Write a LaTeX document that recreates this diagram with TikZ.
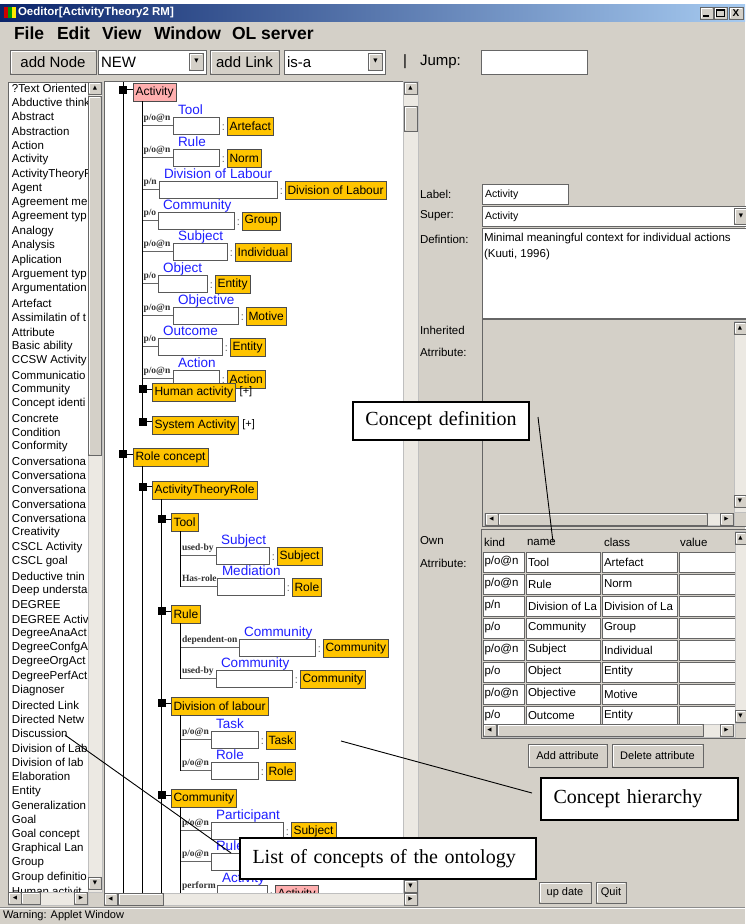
\documentclass[tikz,border=0pt]{standalone}
\usepackage{fontspec}
\setmainfont{Liberation Sans}
\newfontfamily\seriffont{Liberation Serif}
\newfontfamily\symfont{DejaVu Sans}
\definecolor{winbg}{RGB}{212,208,200}
\definecolor{trackbg}{RGB}{236,233,227}
\definecolor{conceptorange}{RGB}{255,196,0}
\definecolor{conceptpink}{RGB}{255,175,175}
\definecolor{linkblue}{RGB}{30,30,255}
\definecolor{titledark}{RGB}{10,36,106}
\definecolor{titlelight}{RGB}{166,202,240}
\newcommand{\sz}[1]{\fontsize{#1}{#1}\selectfont}

\begin{document}
\begin{tikzpicture}[x=1pt,y=-1pt,
	every node/.style={inner sep=0,outer sep=0},
	concept/.style={draw=black!70,fill=conceptorange,anchor=north west,minimum height=18,inner xsep=2.5,font=\sz{12}},
	knob/.style={fill=black,minimum size=8},
	slot/.style={draw=black!65,line width=1,fill=white,anchor=north west,minimum height=17.5},
	attrname/.style={text=linkblue,anchor=base west,font=\sz{13.5}},
	kindlbl/.style={anchor=base west,text=black!80,font=\seriffont\bfseries\sz{9.5}},
	colon/.style={text=black!60,font=\sz{11}},
	trunk/.style={draw=black,line width=0.9},
	stub/.style={draw=black!60,line width=1},
	raised/.style={fill=winbg,draw=black!60,line width=0.7,
		path picture={\draw[white,line width=1.4] ([shift={(1.2pt,1.2pt)}]path picture bounding box.south west) |- ([shift={(-1.2pt,-1.2pt)}]path picture bounding box.north east);}},
	sbtn/.style={raised,anchor=north west,minimum width=13,minimum height=12,font=\symfont\sz{5.5}},
	field/.style={fill=white,draw=black!60,line width=1},
	track/.style={fill=trackbg,draw=black!25,line width=0.5},
	gui/.style={anchor=west,font=\sz{11.5}},
	callout/.style={draw=black,line width=1.1,fill=white,anchor=north west,align=left,inner xsep=12.5,font=\seriffont\sz{20}},
	pointer/.style={draw=black,line width=0.9}]
\useasboundingbox (0,0) rectangle (745,924);
\fill[winbg] (0,0) rectangle (745,924);
\fill[white] (0,0) rectangle (745,4);

% title bar
\shade[left color=titledark,right color=titlelight] (0,4) rectangle (745,21);
\fill[red!80!black] (4,7) rectangle (8,18);
\fill[green!60!black] (8,7) rectangle (12,18);
\fill[yellow!90!orange] (12,7) rectangle (16,18);
\node[anchor=west,text=white,font=\bfseries\sz{11.5}] (title) at (18,13) {Oeditor[ActivityTheory2 RM]};
\draw[raised] (700,7) rectangle (713,19);
\draw[line width=1.5] (703,16) -- (709,16);
\draw[raised] (714,7) rectangle (727,19);
\draw[line width=0.8] (716.5,9.5) rectangle (724.5,16.5);
\draw[line width=1.5] (716.5,10) -- (724.5,10);
\draw[raised] (729,7) rectangle (743,19);
\node[font=\bfseries\sz{10}] (xbtn) at (736,13) {X};

% menu
\foreach \w/\x in {File/14,Edit/57,View/102,Window/154,OL server/232}
	\node[anchor=west,font=\bfseries\sz{17.5}] (menu\x) at (\x,33.5) {\w};

% toolbar
\node[raised,anchor=north west,minimum width=86,minimum height=24,font=\sz{15}] (addnode) at (10,50) {add Node};
\draw[field] (98,50) rectangle (206,74);
\node[gui,font=\sz{15}] (newsel) at (101,62) {NEW};
\node[sbtn,minimum width=14,minimum height=17] (newbtn) at (189.5,53) {▼};
\node[raised,anchor=north west,minimum width=69,minimum height=24,font=\sz{15}] (addlink) at (210,50) {add Link};
\draw[field] (284,50) rectangle (385,74);
\node[gui,font=\sz{15}] (linksel) at (287,62) {is-a};
\node[sbtn,minimum width=14,minimum height=17] (linkbtn) at (368.5,53) {▼};
\node[gui,font=\sz{15}] (bar) at (403,62) {|};
\node[gui,font=\sz{15}] (jump) at (420,62) {Jump:};
\draw[field] (481,50) rectangle (587,74);

% list of concepts
\draw[field] (8,82) rectangle (88,892);
\begin{scope}
\clip (9,83) rectangle (87.5,891);
\foreach \t [count=\i from 0] in {?Text Oriented,Abductive think,Abstract,Abstraction,Action,Activity,ActivityTheoryR,Agent,Agreement me,Agreement typ,Analogy,Analysis,Aplication,Arguement typ,Argumentation,Artefact,Assimilatin of t,Attribute,Basic ability,CCSW Activity,Communicatio,Community,Concept identi,Concrete,Condition,Conformity,Conversationa,Conversationa,Conversationa,Conversationa,Conversationa,Creativity,CSCL Activity,CSCL goal,Deductive tnin,Deep understa,DEGREE,DEGREE Activ,DegreeAnaAct,DegreeConfgA,DegreeOrgAct,DegreePerfAct,Diagnoser,Directed Link,Directed Netw,Discussion,Division of Lab,Division of lab,Elaboration,Entity,Generalization,Goal,Goal concept,Graphical Lan,Group,Group definitio,Human activit}
	\node[gui] (li\i) at (12,{88+\i*14.35}) {\t};
\end{scope}
\draw[track] (88,82) rectangle (102,892);
\node[sbtn] (lup) at (88.5,82.5) {▲};
\draw[raised] (88.5,96) rectangle (101.5,455);
\node[sbtn] (ldown) at (88.5,877) {▼};
\draw[track] (8,892) rectangle (88,905);
\node[sbtn] (lleft) at (8.5,892.5) {◀};
\draw[raised] (21.5,892.5) rectangle (40,904.5);
\node[sbtn] (lright) at (74.5,892.5) {▶};

% concept hierarchy
\draw[field] (104,81) rectangle (403,893);
\begin{scope}
\clip (105,82) rectangle (402.5,892.5);
\coordinate (tA) at (142.5,0);
\coordinate (tR) at (180.5,0);
\draw[trunk] (123,78) -- (123,900);
\node[concept,fill=conceptpink] (act) at (133,83) {Activity};
\node[knob] (kact) at (123,89.5) {};
\draw[trunk] (kact) -- (kact -| act.west);
\foreach \kind/\top/\bl/\bw/\lab/\cls [count=\n] in {
	{p/o@n}/117/173/46/Tool/Artefact,
	{p/o@n}/149/173/46/Rule/Norm,
	{p/n}/181/159/118/Division of Labour/Division of Labour,
	{p/o}/212/158/76/Community/Group,
	{p/o@n}/243/173/54/Subject/Individual,
	{p/o}/275/158/49/Object/Entity,
	{p/o@n}/307/173/65/Objective/Motive,
	{p/o}/338/158/64/Outcome/Entity,
	{p/o@n}/370/173/46/Action/Action}
{
	\node[slot,minimum width=\bw] (s\n) at (\bl,\top) {};
	\node[attrname] (sl\n) at ([xshift=5pt,yshift=2.5pt]s\n.north west) {\lab};
	\node[kindlbl] (sk\n) at (143.5,{\top+3.5}) {\kind};
	\node[colon] (sc\n) at ([xshift=4.5pt,yshift=-1.5pt]s\n.east) {:};
	\node[concept] (st\n) at ([xshift=8pt]s\n.north east) {\cls};
	\draw[stub] (s\n.west) -- (s\n.west -| tA);
}
\node[concept] (hum) at (152,383) {Human activity};
\node[anchor=west,font=\sz{11}] (humplus) at ([xshift=4pt]hum.east) {[+]};
\node[concept] (sys) at (152,416) {System Activity};
\node[anchor=west,font=\sz{11}] (sysplus) at ([xshift=4pt]sys.east) {[+]};
\draw[trunk] ([xshift=9.5pt]act.south west) -- (sys.west -| tA);
\node[knob] (khum) at (142.5,389) {};
\node[knob] (ksys) at (142.5,421.5) {};
\draw[trunk] (khum) -- (khum -| hum.west);
\draw[trunk] (ksys) -- (ksys -| sys.west);

\node[concept] (rolec) at (133,448) {Role concept};
\node[knob] (krole) at (123,454) {};
\draw[trunk] (krole) -- (krole -| rolec.west);
\draw[trunk] ([xshift=9.5pt]rolec.south west) -- (142.5,900);
\node[concept] (atr) at (152,481) {ActivityTheoryRole};
\node[knob] (katr) at (142.5,486.5) {};
\draw[trunk] (katr) -- (katr -| atr.west);
\draw[trunk] ([xshift=9.5pt]atr.south west) -- (161.5,900);
\foreach \nd/\top/\txt in {rtool/513/Tool,rrule/605/Rule,rdiv/697/Division of labour,rcom/789/Community}
{
	\node[concept] (\nd) at (171,\top) {\txt};
	\node[knob] (k\nd) at (161.5,{\top+6}) {};
	\draw[trunk] (k\nd) -- (k\nd -| \nd.west);
}
\foreach \kind/\top/\bl/\bw/\lab/\cls [count=\n] in {
	{used-by}/547/216/53/Subject/Subject,
	{Has-role}/578/217/67/Mediation/Role,
	{dependent-on}/639/239/76/Community/Community,
	{used-by}/670/216/76/Community/Community,
	{p/o@n}/731/211/47/Task/Task,
	{p/o@n}/762/211/47/Role/Role,
	{p/o@n}/822/211/72/Participant/Subject}
{
	\node[slot,minimum width=\bw] (r\n) at (\bl,\top) {};
	\node[attrname] (rl\n) at ([xshift=5pt,yshift=2.5pt]r\n.north west) {\lab};
	\node[kindlbl] (rk\n) at (182,{\top+3.5}) {\kind};
	\node[colon] (rc\n) at ([xshift=4.5pt,yshift=-1.5pt]r\n.east) {:};
	\node[concept] (rt\n) at ([xshift=8pt]r\n.north east) {\cls};
	\draw[stub] (r\n.west) -- (r\n.west -| tR);
}
\node[slot,minimum width=60] (r8) at (211,853) {};
\node[attrname] (rl8) at ([xshift=5pt,yshift=2.5pt]r8.north west) {Rule};
\node[kindlbl] (rk8) at (182,856.5) {p/o@n};
\draw[stub] (r8.west) -- (r8.west -| tR);
\node[slot,minimum width=50] (r9) at (217,885) {};
\node[attrname] (rl9) at ([xshift=5pt,yshift=2.5pt]r9.north west) {Activity};
\node[kindlbl] (rk9) at (182,888.5) {perform};
\node[colon] (rc9) at ([xshift=4.5pt,yshift=-1.5pt]r9.east) {:};
\node[concept,fill=conceptpink] (rt9) at ([xshift=8pt]r9.north east) {Activity};
\draw[stub] (r9.west) -- (r9.west -| tR);
\draw[trunk] ([xshift=9.5pt]rtool.south west) -- (r2.west -| tR);
\draw[trunk] ([xshift=9.5pt]rrule.south west) -- (r4.west -| tR);
\draw[trunk] ([xshift=9.5pt]rdiv.south west) -- (r6.west -| tR);
\draw[trunk] ([xshift=9.5pt]rcom.south west) -- (180.5,900);
\end{scope}
\draw[track] (403,81) rectangle (418,893);
\node[sbtn] (tup) at (404,82) {▲};
\draw[raised] (404,106) rectangle (417,131);
\node[sbtn] (tdown) at (404,880) {▼};
\draw[track] (104,893) rectangle (418,905);
\node[sbtn] (tleft) at (104,893) {◀};
\draw[raised] (118,893) rectangle (163,905);
\node[sbtn] (tright) at (404,893) {▶};

% concept definition panel
\foreach \l/\y in {Label:/194,Super:/216,Defintion:/239,Inherited/330,Atrribute:/352,Own/541,Atrribute:/563}
	\node[gui] at (420,\y) {\l};
\draw[field] (482,184) rectangle (568,204);
\node[gui,font=\sz{10.5}] (labval) at (485,194.5) {Activity};
\draw[field] (482,206) rectangle (747,226);
\node[gui,font=\sz{10.5}] (supval) at (485,216.5) {Activity};
\node[sbtn,minimum width=14,minimum height=16] (supbtn) at (734,208) {▼};
\draw[field] (482,228) rectangle (747,318);
\node[gui,anchor=north west,align=left,font=\sz{11.5}] (defval) at (484,233) {Minimal meaningful context for individual actions\\[5pt](Kuuti, 1996)};
\draw[field,fill=winbg] (482,319) rectangle (747,526);
\draw[track] (734,321) rectangle (747,512);
\node[sbtn,minimum width=12] (iup) at (734,322) {▲};
\node[sbtn,minimum width=12] (idown) at (734,495) {▼};
\draw[track] (484,513) rectangle (734,525);
\node[sbtn] (ileft) at (485,513) {◀};
\draw[raised] (498,513) rectangle (707,525);
\node[sbtn] (iright) at (720,513) {▶};

\draw[field,fill=winbg] (481,529) rectangle (747,738);
\foreach \h/\x in {kind/484,name/527,class/604,value/680}
	\node[gui] (head\x) at (\x,542) {\h};
\begin{scope}
\clip (481,529) rectangle (735,723);
\foreach \k/\nm/\cl [count=\i from 0] in {{p/o@n}/Tool/Artefact,{p/o@n}/Rule/Norm,{p/n}/Division of La/Division of La,{p/o}/Community/Group,{p/o@n}/Subject/Individual,{p/o}/Object/Entity,{p/o@n}/Objective/Motive,{p/o}/Outcome/Entity}
{
	\draw[field] (483,{552+22*\i}) rectangle (524,{572+22*\i});
	\draw[field] (526,{552+22*\i}) rectangle (600,{572+22*\i});
	\draw[field] (602,{552+22*\i}) rectangle (677,{572+22*\i});
	\draw[field] (679,{552+22*\i}) rectangle (740,{572+22*\i});
	\node[gui] (ck\i) at (484.5,{562+22*\i}) {\k};
	\node[gui] (cn\i) at (528,{562+22*\i}) {\nm};
	\node[gui] (cc\i) at (604,{562+22*\i}) {\cl};
}
\end{scope}
\draw[track] (735,531) rectangle (747,723);
\node[sbtn,minimum width=11] (oup) at (735,532) {▲};
\node[sbtn,minimum width=11] (odown) at (735,710) {▼};
\draw[track] (483,724) rectangle (735,737);
\node[sbtn] (oleft) at (483,724.5) {◀};
\draw[raised] (497,724.5) rectangle (703,736.5);
\node[sbtn] (oright) at (720,724.5) {▶};
\node[raised,anchor=north west,minimum width=79,minimum height=23,font=\sz{11}] (addattr) at (528,744) {Add attribute};
\node[raised,anchor=north west,minimum width=91,minimum height=23,font=\sz{11}] (delattr) at (612,744) {Delete attribute};
\node[raised,anchor=north west,minimum width=52,minimum height=21,font=\sz{11}] (update) at (539,882) {up date};
\node[raised,anchor=north west,minimum width=30,minimum height=21,font=\sz{11}] (quit) at (596,882) {Quit};

% status bar
\draw[black!45] (0,907) -- (745,907);
\draw[white] (0,908) -- (745,908);
\node[gui,font=\sz{11}] (status) at (3,916) {Warning: Applet Window};

% callouts
\node[callout,align=center,inner xsep=8,text width=160,minimum height=38] (cdef) at (353,402) {Concept definition};
\node[callout,text width=172,minimum height=42] (chier) at (541,778) {Concept hierarchy};
\node[callout,text width=271,minimum height=41] (clist) at (240,838) {List of concepts of the ontology};
\coordinate (cdefA) at ([xshift=9pt,yshift=4pt]cdef.east);
\coordinate (cdefB) at (553,542);
\coordinate (chierA) at ([xshift=-9pt,yshift=6pt]chier.west);
\coordinate (chierB) at (341,741);
\coordinate (clistA) at ([xshift=-9pt,yshift=5.5pt]clist.west);
\coordinate (clistB) at (65,735);
\draw[pointer] (cdefA) -- (cdefB);
\draw[pointer] (chierA) -- (chierB);
\draw[pointer] (clistA) -- (clistB);
\end{tikzpicture}
\end{document}
